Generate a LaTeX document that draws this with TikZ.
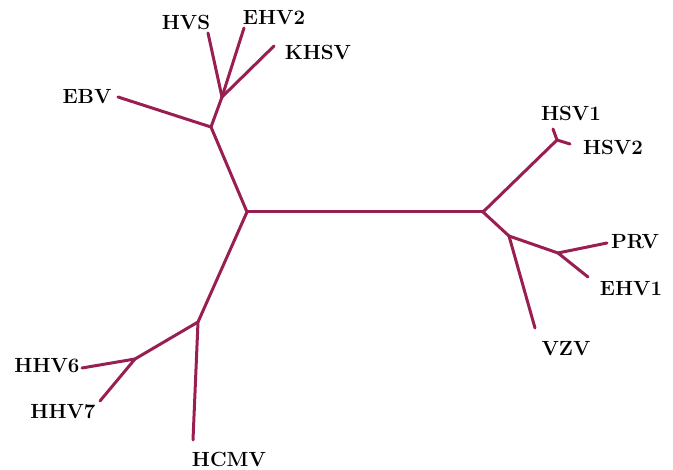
\documentclass[tikz,border=0pt]{standalone}
\definecolor{branch}{HTML}{991E52}
\begin{document}
\begin{tikzpicture}[x=1pt,y=-1pt,
  edge/.style={draw=branch,line width=3pt,line cap=round,line join=round},
  lbl/.style={font=\fontsize{20.5}{22}\selectfont\bfseries,inner sep=0pt,text=black}]
\useasboundingbox (0,0) rectangle (673,470);
% branch points
\coordinate (A) at (247,212);
\coordinate (B) at (483,212);
\coordinate (C) at (211,127);
\coordinate (D) at (222,97);
\coordinate (E) at (557,140);
\coordinate (F) at (509,236);
\coordinate (G) at (558,253);
\coordinate (H) at (198,322);
\coordinate (I) at (135,359);
% leaf ends
\coordinate (hvs) at (208,33);
\coordinate (ehv2) at (244,28);
\coordinate (khsv) at (274,46);
\coordinate (ebv) at (118,97);
\coordinate (hsv1) at (553,129);
\coordinate (hsv2) at (570,144);
\coordinate (prv) at (607,243);
\coordinate (ehv1) at (588,277);
\coordinate (vzv) at (535,328);
\coordinate (hcmv) at (193,440);
\coordinate (hhv6) at (82,368);
\coordinate (hhv7) at (100,401);
% labels
\node[lbl] (Lhvs) at (186,22) {HVS};
\node[lbl] (Lehv2) at (274,18) {EHV2};
\node[lbl] (Lkhsv) at (318,52) {KHSV};
\node[lbl] (Lebv) at (87,97) {EBV};
\node[lbl] (Lhsv1) at (571,113) {HSV1};
\node[lbl] (Lhsv2) at (613,147) {HSV2};
\node[lbl] (Lprv) at (635,242) {PRV};
\node[lbl] (Lehv1) at (631,289) {EHV1};
\node[lbl] (Lvzv) at (566,349) {VZV};
\node[lbl] (Lhcmv) at (229,459) {HCMV};
\node[lbl] (Lhhv6) at (47,366) {HHV6};
\node[lbl] (Lhhv7) at (63,412) {HHV7};
% edges
\draw[edge] (A) -- (B);
\draw[edge] (A) -- (C);
\draw[edge] (C) -- (D);
\draw[edge] (C) -- (ebv);
\draw[edge] (D) -- (hvs);
\draw[edge] (D) -- (ehv2);
\draw[edge] (D) -- (khsv);
\draw[edge] (B) -- (E);
\draw[edge] (E) -- (hsv1);
\draw[edge] (E) -- (hsv2);
\draw[edge] (B) -- (F);
\draw[edge] (F) -- (G);
\draw[edge] (G) -- (prv);
\draw[edge] (G) -- (ehv1);
\draw[edge] (F) -- (vzv);
\draw[edge] (A) -- (H);
\draw[edge] (H) -- (hcmv);
\draw[edge] (H) -- (I);
\draw[edge] (I) -- (hhv6);
\draw[edge] (I) -- (hhv7);
\end{tikzpicture}
\end{document}
